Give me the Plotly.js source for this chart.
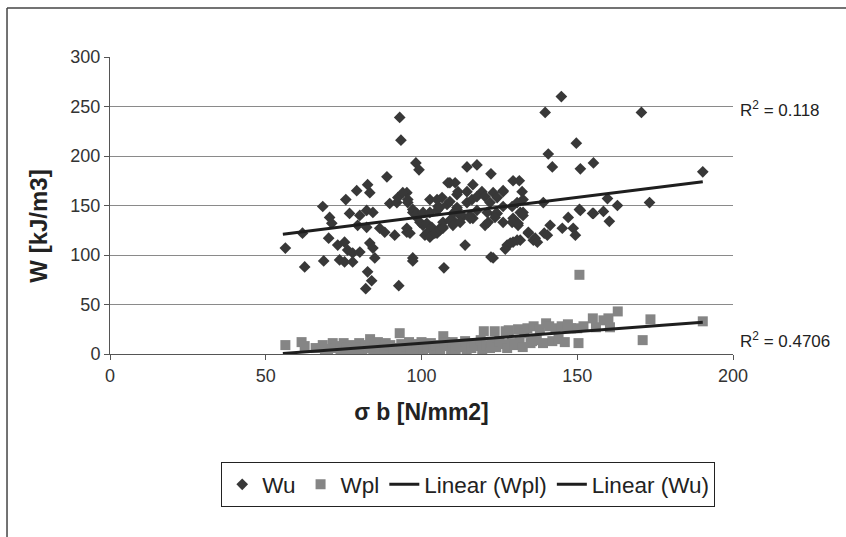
<!DOCTYPE html>
<html>
<head>
<meta charset="utf-8">
<script src="https://cdn.plot.ly/plotly-3.0.1.min.js"></script>
<style>html,body{margin:0;padding:0;background:#fff;}#chart{width:846px;height:537px;}</style>
</head>
<body>
<div id="chart"></div>
<script>
const wuX = [56.3,61.8,62.5,68.6,68.3,70.5,71.2,70.2,73.1,75.3,76.3,77.9,80.2,73.7,75.3,77.9,83.4,84.4,85,82.7,84,82.1,92.7,97.2,107.2,114,76.9,80.2,82.4,84.4,79.5,82.4,86.6,88.2,91.4,95.3,89.8,92.1,95.6,97.2,98.5,100.5,102,105,106.9,110.1,105.3,108.2,111.4,113.3,88.9,82.7,79.2,83.4,75.7,92.4,95.3,93,93.4,98.2,99.2,114.6,117.8,109.1,110.8,111.4,144.9,139.7,170.6,149.7,140.7,142,151,155.2,190.3,122.3,129.4,131.4,126.2,132.3,139.1,159.7,173.2,150.7,162.9,158.4,154.9,147.1,116.5,120.4,123.6,126.2,129.4,131,132.6,134.3,135.9,131.7,129.4,127.5,126.9,123,139.4,141.3,145.2,148.7,149.4,151,155.2,160.3,94,95.6,108.5,116.5,111.7,114.6,119.4,123,126.2,132.6,102.7,105,106.6,109.1,111.4,114.6,116.2,117.8,120.4,122,124.3,126.2,129.1,130.7,97.2,98.5,100.5,102.7,105,105.9,110.1,112.4,115.6,117.8,121.1,124.3,131.7,132.6,99.5,101.7,103.3,105.9,106.9,109.1,112.4,115.6,121.4,123.6,129.1,131,95.3,96.3,101.1,102.7,104.3,105.9,106.9,110.1,128.5,130.7,134.3,136.5,137.2,140.4,122.3,97.2];
const wuY = [107,122,88,94,149,138,132,117,110,113,105,102,103,95,93,93,112,107,97,83,74,66,69,94,87,110,142,140,145,143,130,128,127,123,120,123,152,153,153,143,138,130,123,122,128,135,149,151,146,139,179,171,165,163,156,158,163,239,216,193,186,189,191,173,173,161,260,244,244,213,202,189,187,193,184,182,175,175,165,164,153,157,153,146,150,144,142,138,137,130,141,133,137,130,143,122,115,115,113,110,106,97,122,130,127,127,120,145,142,134,163,156,173,171,164,164,164,163,164,156,156,156,158,154,148,153,156,159,159,153,158,149,149,153,146,142,143,143,145,148,142,140,140,145,143,142,143,140,133,132,128,127,133,135,133,137,133,138,133,132,127,122,120,118,122,125,127,130,112,115,123,117,113,120,98,97];

const wplX = [56.3,61.5,62.5,66,68.3,69,70,71.5,72,73,74,75,75.5,76,77.5,78,79,80,80.5,81,82,83,83.5,84.5,85,86,87,88,88.5,89.5,90,91,92,93,93.5,94,95,96,96.5,97.5,98.5,99,100,100.5,101,102,103,104,104.5,105.5,106,107,107.5,108.5,109.5,110,111,112,113,114,114.5,115,116,117,118,119,119.5,120,121,122,122.5,123.5,124,125,126,127,127.5,128,129,130,131,131.5,132.5,133,134,135,135.5,136,137,138,139,140,141,142,143,144,145,146,147,148,150,150.4,150.7,152,155,156,158.4,160,160.5,163,171,173.5,190.3];
const wplY = [9,12,8,6,9,5,4,11,6,8,5,11,3,7,9,5,4,11,7,3,9,6,15,5,8,12,4,7,11,5,9,3,6,21,10,5,8,12,4,7,10,5,12,4,8,6,11,5,9,7,3,18,12,8,5,12,4,9,7,13,4,10,6,11,8,14,5,23,9,6,12,23,7,13,10,23,6,24,11,9,25,12,7,21,26,11,13,28,14,25,11,31,28,13,26,15,28,12,30,26,26,11,80,28,36,27,34,36,27,43,14,35,33];

const fitWplX = [55.5, 190.3];
const fitWplY = [0.5, 32];
const fitWuX = [55.5, 190.3];
const fitWuY = [121, 174];

const xTicks = [0, 50, 100, 150, 200];
const yTicks = [0, 50, 100, 150, 200, 250, 300];
const r2Labels = ['R<sup>2</sup> = 0.118', 'R<sup>2</sup> = 0.4706'];
const yTitle = 'W [kJ/m3]';
const xTitle = 'σ b [N/mm2]';

const FONT = 'Liberation Sans, Arial, sans-serif';

const traces = [
  {x: wuX, y: wuY, name: 'Wu', type: 'scatter', mode: 'markers',
   marker: {symbol: 'diamond', size: 9, color: '#383838'}},
  {x: wplX, y: wplY, name: 'Wpl', type: 'scatter', mode: 'markers',
   marker: {symbol: 'square', size: 10, color: '#858585'}},
  {x: fitWplX, y: fitWplY, name: 'Linear (Wpl)', type: 'scatter', mode: 'lines',
   line: {color: '#1e1e1e', width: 3}},
  {x: fitWuX, y: fitWuY, name: 'Linear (Wu)', type: 'scatter', mode: 'lines',
   line: {color: '#1e1e1e', width: 3}}
];

const layout = {
  width: 846, height: 537,
  margin: {l: 110, r: 113, t: 57, b: 183},
  paper_bgcolor: '#fff', plot_bgcolor: '#fff',
  font: {family: FONT, color: '#333', size: 18},
  showlegend: true,
  legend: {orientation: 'h', x: 0.575, xanchor: 'center', y: -0.44, yanchor: 'middle',
           bordercolor: '#222', borderwidth: 1, bgcolor: '#fff', itemwidth: 30,
           font: {family: FONT, size: 22.5, color: '#222'}, traceorder: 'normal'},
  xaxis: {range: [0, 200], tickvals: xTicks, ticktext: xTicks.map(String),
          showgrid: false, zeroline: false, showline: true, linecolor: '#555', linewidth: 1,
          ticks: 'outside', ticklen: 5, tickcolor: '#555', tickfont: {size: 18, color: '#333'},
          title: {text: xTitle, font: {family: FONT, size: 23, color: '#222', weight: 'bold'}, standoff: 19}},
  yaxis: {range: [0, 300], tickvals: yTicks, ticktext: yTicks.map(String),
          showgrid: true, gridcolor: '#8a8a8a', gridwidth: 1, zeroline: false,
          showline: true, linecolor: '#555', linewidth: 1,
          ticks: 'outside', ticklen: 5, tickcolor: '#555', tickfont: {size: 18, color: '#333'}},
  annotations: [
    {xref: 'paper', yref: 'paper', x: 1.008, y: 0.825, xanchor: 'left', yanchor: 'middle',
     text: r2Labels[0], showarrow: false, font: {family: FONT, size: 17, color: '#222'}},
    {xref: 'paper', yref: 'paper', x: 1.008, y: 0.047, xanchor: 'left', yanchor: 'middle',
     text: r2Labels[1], showarrow: false, font: {family: FONT, size: 17, color: '#222'}},
    {xref: 'paper', yref: 'paper', x: -0.115, y: 0.43, xanchor: 'center', yanchor: 'middle',
     textangle: -90, text: yTitle, showarrow: false,
     font: {family: FONT, size: 24, color: '#222', weight: 'bold'}}
  ],
  shapes: [
    {type: 'line', xref: 'paper', yref: 'paper', x0: -0.1653, x1: 1.3, y0: 1.165, y1: 1.165,
     line: {color: '#444', width: 1.5}},
    {type: 'line', xref: 'paper', yref: 'paper', x0: -0.1653, x1: -0.1653, y0: 1.165, y1: -0.7,
     line: {color: '#444', width: 1.5}}
  ]
};

Plotly.newPlot('chart', traces, layout, {displayModeBar: false, staticPlot: true});
</script>
</body>
</html>
